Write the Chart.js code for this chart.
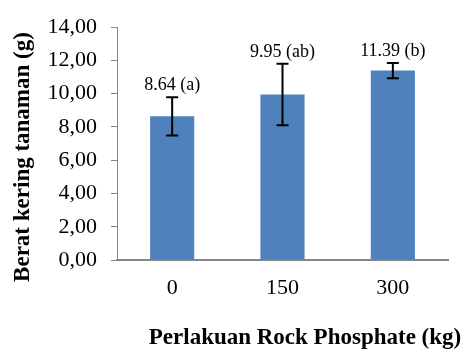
<!DOCTYPE html>
<html>
<head>
<meta charset="utf-8">
<script src="https://cdn.jsdelivr.net/npm/chart.js@4/dist/chart.umd.min.js"></script>
<style>
html, body { margin: 0; padding: 0; background: #fff; }
</style>
</head>
<body>
<canvas id="chart" width="470" height="351"></canvas>
<script>
const doses = ['0', '150', '300'];
const dryWeight = [8.64, 9.95, 11.39];
const errorSize = [1.15, 1.85, 0.46];
const groupLetters = ['a', 'ab', 'b'];
const yMin = 0;
const yMax = 14;
const yStep = 2;

const serif = '"Liberation Serif", "Times New Roman", serif';
const axisGrey = '#868686';

// error bars, value labels and the two axis titles
const extrasPlugin = {
    id: 'extras',
    afterDatasetsDraw(chart) {
        const ctx = chart.ctx;
        const y = chart.scales.y;
        const meta = chart.getDatasetMeta(0);
        ctx.save();
        ctx.strokeStyle = '#000';
        ctx.lineWidth = 2;
        meta.data.forEach((bar, i) => {
            const top = y.getPixelForValue(dryWeight[i] + errorSize[i]);
            const bottom = y.getPixelForValue(dryWeight[i] - errorSize[i]);
            ctx.beginPath();
            ctx.moveTo(bar.x, top);
            ctx.lineTo(bar.x, bottom);
            ctx.moveTo(bar.x - 6, top);
            ctx.lineTo(bar.x + 6, top);
            ctx.moveTo(bar.x - 6, bottom);
            ctx.lineTo(bar.x + 6, bottom);
            ctx.stroke();

            ctx.fillStyle = '#000';
            ctx.font = '18px ' + serif;
            ctx.textAlign = 'center';
            ctx.textBaseline = 'middle';
            ctx.fillText(dryWeight[i].toFixed(2) + ' (' + groupLetters[i] + ')', bar.x, top - 12);
        });

        ctx.font = 'bold 23px ' + serif;
        ctx.textAlign = 'center';
        ctx.textBaseline = 'middle';
        ctx.fillText('Perlakuan Rock Phosphate (kg)', 305, 338);

        ctx.translate(23, 157);
        ctx.rotate(-Math.PI / 2);
        ctx.fillText('Berat kering tanaman (g)', 0, 0);
        ctx.restore();
    }
};

new Chart(document.getElementById('chart'), {
    type: 'bar',
    data: {
        labels: doses,
        datasets: [{
            data: dryWeight,
            backgroundColor: '#4F81BD',
            borderWidth: 0,
            categoryPercentage: 1,
            barPercentage: 0.4
        }]
    },
    options: {
        responsive: false,
        animation: false,
        layout: {
            padding: { top: 17, right: 22, left: 0, bottom: 0 }
        },
        plugins: {
            legend: { display: false },
            tooltip: { enabled: false }
        },
        scales: {
            y: {
                min: yMin,
                max: yMax,
                afterFit(scale) { scale.width = 117; },
                ticks: {
                    stepSize: yStep,
                    padding: 14,
                    color: '#000',
                    font: { family: serif, size: 22 },
                    callback: value => value.toFixed(2).replace('.', ',')
                },
                grid: {
                    drawOnChartArea: false,
                    drawTicks: true,
                    tickLength: 6,
                    color: axisGrey
                },
                border: { display: true, color: axisGrey, width: 1 }
            },
            x: {
                afterFit(scale) { scale.height = 91; },
                ticks: {
                    padding: 15,
                    color: '#000',
                    font: { family: serif, size: 22 }
                },
                grid: { display: false, drawTicks: false },
                border: { display: true, color: axisGrey, width: 2 }
            }
        }
    },
    plugins: [extrasPlugin]
});
</script>
</body>
</html>
